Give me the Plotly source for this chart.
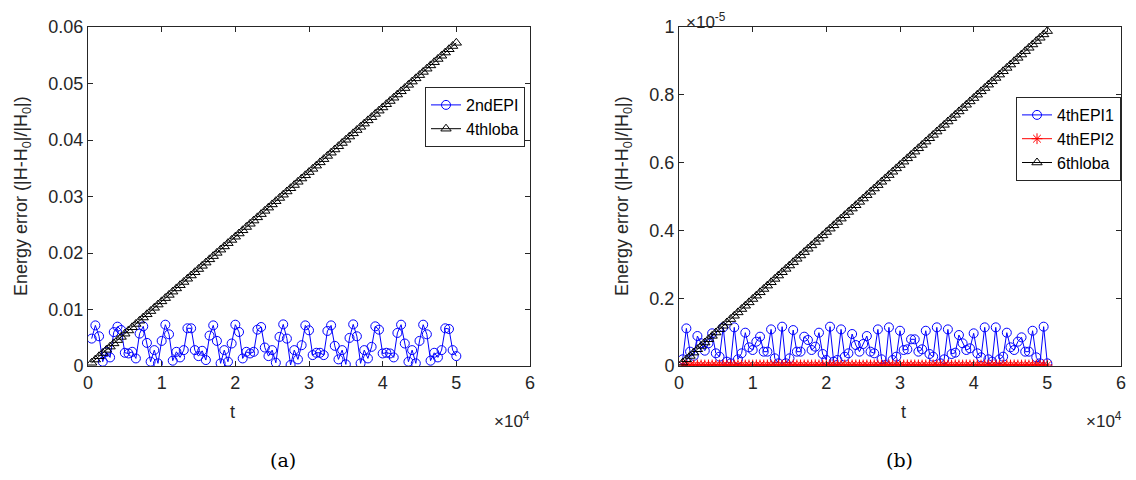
import plotly.graph_objects as go

# time samples (units of 1e4)
t_1e4 = [0.05, 0.10, 0.15, 0.20, 0.25, 0.30, 0.35, 0.40, 0.45, 0.50,
         0.55, 0.60, 0.65, 0.70, 0.75, 0.80, 0.85, 0.90, 0.95, 1.00,
         1.05, 1.10, 1.15, 1.20, 1.25, 1.30, 1.35, 1.40, 1.45, 1.50,
         1.55, 1.60, 1.65, 1.70, 1.75, 1.80, 1.85, 1.90, 1.95, 2.00,
         2.05, 2.10, 2.15, 2.20, 2.25, 2.30, 2.35, 2.40, 2.45, 2.50,
         2.55, 2.60, 2.65, 2.70, 2.75, 2.80, 2.85, 2.90, 2.95, 3.00,
         3.05, 3.10, 3.15, 3.20, 3.25, 3.30, 3.35, 3.40, 3.45, 3.50,
         3.55, 3.60, 3.65, 3.70, 3.75, 3.80, 3.85, 3.90, 3.95, 4.00,
         4.05, 4.10, 4.15, 4.20, 4.25, 4.30, 4.35, 4.40, 4.45, 4.50,
         4.55, 4.60, 4.65, 4.70, 4.75, 4.80, 4.85, 4.90, 4.95, 5.00]

# (a) values in units of 1e-3
epi2nd_e3 = [4.85, 7.19, 5.26, 0.76, 2.50, 1.52, 6.00, 6.96, 6.37, 2.34,
             2.22, 2.51, 1.34, 5.73, 7.02, 4.09, 0.76, 2.81, 0.47, 4.44,
             7.31, 5.61, 0.94, 2.51, 1.52, 2.81, 6.67, 6.67, 2.81, 1.75,
             2.69, 1.05, 5.38, 7.19, 4.44, 0.47, 2.81, 0.76, 3.98, 7.31,
             6.02, 1.34, 2.51, 2.22, 2.51, 6.43, 6.90, 3.27, 1.75, 2.81,
             0.58, 5.15, 7.37, 4.85, 0.18, 2.81, 1.17, 3.68, 7.19, 6.32,
             1.93, 2.34, 2.34, 1.93, 6.20, 7.19, 3.57, 1.17, 2.81, 0.29,
             4.97, 7.37, 5.26, 0.47, 2.81, 1.34, 3.39, 7.02, 6.43, 2.22,
             2.34, 2.22, 1.52, 5.85, 7.31, 3.98, 0.76, 2.81, 0.47, 4.44,
             7.31, 5.61, 0.94, 2.34, 1.52, 2.81, 6.67, 6.55, 2.81, 1.75]

loba4th_e3 = [0.57, 1.14, 1.72, 2.29, 2.86, 3.43, 4.00, 4.58, 5.15, 5.72,
              6.29, 6.86, 7.44, 8.01, 8.58, 9.15, 9.72, 10.30, 10.87, 11.44,
              12.01, 12.58, 13.16, 13.73, 14.30, 14.87, 15.44, 16.02, 16.59, 17.16,
              17.73, 18.30, 18.88, 19.45, 20.02, 20.59, 21.16, 21.74, 22.31, 22.88,
              23.45, 24.02, 24.60, 25.17, 25.74, 26.31, 26.88, 27.46, 28.03, 28.60,
              29.17, 29.74, 30.32, 30.89, 31.46, 32.03, 32.60, 33.18, 33.75, 34.32,
              34.89, 35.46, 36.04, 36.61, 37.18, 37.75, 38.32, 38.90, 39.47, 40.04,
              40.61, 41.18, 41.76, 42.33, 42.90, 43.47, 44.04, 44.62, 45.19, 45.76,
              46.33, 46.90, 47.48, 48.05, 48.62, 49.19, 49.76, 50.34, 50.91, 51.48,
              52.05, 52.62, 53.20, 53.77, 54.34, 54.91, 55.48, 56.06, 56.63, 57.20]

# (b) values in units of 1e-7
epi4th1_e7 = [1.97, 11.1, 4.23, 3.00, 8.85, 6.69, 4.52, 6.69, 9.64, 3.74,
              2.75, 11.4, 1.28, 0.79, 11.4, 1.97, 3.74, 9.83, 5.51, 4.72,
              7.18, 8.65, 4.23, 4.23, 10.8, 2.26, 0.79, 11.6, 0.79, 2.26,
              10.6, 4.23, 4.23, 8.65, 7.67, 4.72, 5.70, 9.83, 3.54, 1.77,
              11.6, 1.28, 1.77, 10.8, 2.75, 3.74, 9.44, 6.19, 4.23, 6.49,
              8.85, 4.23, 3.74, 10.8, 1.97, 0.29, 11.4, 1.77, 2.75, 10.4,
              4.72, 4.92, 7.87, 7.87, 4.23, 4.92, 10.4, 3.54, 2.75, 11.4,
              0.79, 1.97, 10.8, 3.54, 3.93, 9.14, 6.69, 4.72, 5.21, 9.64,
              3.74, 2.56, 11.4, 1.97, 1.28, 11.4, 1.97, 2.75, 9.83, 5.51,
              4.72, 7.18, 8.46, 4.23, 4.23, 10.4, 2.56, 0.79, 11.6, 0.79]

epi4th2_e7 = [0.30, 0.28, 0.31, 0.29, 0.32, 0.30, 0.27, 0.31, 0.30, 0.29,
              0.31, 0.30, 0.28, 0.32, 0.29, 0.30, 0.31, 0.27, 0.30, 0.29,
              0.32, 0.30, 0.28, 0.31, 0.30, 0.29, 0.31, 0.30, 0.28, 0.32,
              0.29, 0.30, 0.31, 0.27, 0.30, 0.29, 0.32, 0.30, 0.28, 0.31,
              0.30, 0.29, 0.31, 0.30, 0.28, 0.32, 0.29, 0.30, 0.31, 0.27,
              0.30, 0.29, 0.32, 0.30, 0.28, 0.31, 0.30, 0.29, 0.31, 0.30,
              0.28, 0.32, 0.29, 0.30, 0.31, 0.27, 0.30, 0.29, 0.32, 0.30,
              0.28, 0.31, 0.30, 0.29, 0.31, 0.30, 0.28, 0.32, 0.29, 0.30,
              0.31, 0.27, 0.30, 0.29, 0.32, 0.30, 0.28, 0.31, 0.30, 0.29,
              0.31, 0.30, 0.28, 0.32, 0.29, 0.30, 0.31, 0.27, 0.30, 0.29]

loba6th_e7 = [0.99, 1.98, 2.96, 3.95, 4.94, 5.93, 6.92, 7.90, 8.89, 9.88,
              10.87, 11.86, 12.84, 13.83, 14.82, 15.81, 16.80, 17.78, 18.77, 19.76,
              20.75, 21.74, 22.72, 23.71, 24.70, 25.69, 26.68, 27.66, 28.65, 29.64,
              30.63, 31.62, 32.60, 33.59, 34.58, 35.57, 36.56, 37.54, 38.53, 39.52,
              40.51, 41.50, 42.48, 43.47, 44.46, 45.45, 46.44, 47.42, 48.41, 49.40,
              50.39, 51.38, 52.36, 53.35, 54.34, 55.33, 56.32, 57.30, 58.29, 59.28,
              60.27, 61.26, 62.24, 63.23, 64.22, 65.21, 66.20, 67.18, 68.17, 69.16,
              70.15, 71.14, 72.12, 73.11, 74.10, 75.09, 76.08, 77.06, 78.05, 79.04,
              80.03, 81.02, 82.00, 82.99, 83.98, 84.97, 85.96, 86.94, 87.93, 88.92,
              89.91, 90.90, 91.88, 92.87, 93.86, 94.85, 95.84, 96.82, 97.81, 98.80]

x_ticks = [0, 1, 2, 3, 4, 5, 6]
ya_ticks = [0, 0.01, 0.02, 0.03, 0.04, 0.05, 0.06]
yb_ticks = [0, 0.2, 0.4, 0.6, 0.8, 1]

t = [v * 1e4 for v in t_1e4]
a_epi = [v * 1e-3 for v in epi2nd_e3]
a_loba = [v * 1e-3 for v in loba4th_e3]
# (b) plotted in units of 1e-5
b_epi1 = [v * 1e-2 for v in epi4th1_e7]
b_epi2 = [v * 1e-2 for v in epi4th2_e7]
b_loba = [v * 1e-2 for v in loba6th_e7]

AX = "#262626"
FONT = "Liberation Sans, Arial, Helvetica, sans-serif"

# page body has an 8px margin: figure occupies (8..1128, 8..472)
OFF = 8
W, H = 1136 - 2 * OFF, 480 - 2 * OFF


def px(x):
    return (x - OFF) / W


def py(y):
    return 1 - (y - OFF) / H


fig = go.Figure()


def add(x, y, name, color, symbol, xa, ya, lg, msize=9):
    fig.add_trace(go.Scatter(
        x=x, y=y, name=name, mode="lines+markers", xaxis=xa, yaxis=ya,
        legend=lg,
        line=dict(color=color, width=1),
        marker=dict(symbol=symbol, size=msize, color=color,
                    line=dict(color=color, width=1)),
    ))


add(t, a_epi, "2ndEPI", "#0000FF", "circle-open", "x", "y", "legend")
add(t, a_loba, "4thloba", "#000000", "triangle-up-open", "x", "y", "legend")
add(t, b_epi1, "4thEPI1", "#0000FF", "circle-open", "x2", "y2", "legend2")
add(t, b_epi2, "4thEPI2", "#FF0000", "asterisk-open", "x2", "y2", "legend2", 9)
add(t, b_loba, "6thloba", "#000000", "triangle-up-open", "x2", "y2", "legend2")

ydom = [py(366), py(27)]

axis_common = dict(
    showgrid=False, zeroline=False, showline=True, linecolor=AX, linewidth=1,
    mirror="ticks", ticks="inside", ticklen=5, tickcolor=AX, tickwidth=1,
    automargin=False,
    tickfont=dict(family=FONT, size=18, color=AX),
)

fig.update_layout(
    template="none",
    width=W, height=H,
    margin=dict(l=0, r=0, t=0, b=0, pad=0, autoexpand=False),
    paper_bgcolor="white", plot_bgcolor="white",
    font=dict(family=FONT, color=AX),
    xaxis=dict(domain=[px(88), px(530)], range=[0, 6e4],
               tickvals=[v * 1e4 for v in x_ticks],
               ticktext=[str(v) for v in x_ticks], anchor="y", **axis_common),
    yaxis=dict(domain=ydom, range=[0, 0.06], tickvals=ya_ticks,
               ticktext=["0", "0.01", "0.02", "0.03", "0.04", "0.05", "0.06"],
               anchor="x", **axis_common),
    xaxis2=dict(domain=[px(679), px(1121)], range=[0, 6e4],
                tickvals=[v * 1e4 for v in x_ticks],
                ticktext=[str(v) for v in x_ticks], anchor="y2", **axis_common),
    yaxis2=dict(domain=ydom, range=[0, 1], tickvals=yb_ticks,
                ticktext=["0", "0.2", "0.4", "0.6", "0.8", "1"],
                anchor="x2", **axis_common),
    legend=dict(x=px(425), y=py(87), xanchor="left", yanchor="top",
                bgcolor="white", bordercolor=AX, borderwidth=1,
                font=dict(family=FONT, size=16, color="#000000"),
                itemwidth=30, tracegroupgap=0),
    legend2=dict(x=px(1016), y=py(97), xanchor="left", yanchor="top",
                 bgcolor="white", bordercolor=AX, borderwidth=1,
                 font=dict(family=FONT, size=16, color="#000000"),
                 itemwidth=30, tracegroupgap=0),
    showlegend=True,
)

ylabel = "Energy error (|H-H<sub>0</sub>|/|H<sub>0</sub>|)"
SERIF = "DejaVu Serif, Liberation Serif, serif"
ann = [
    dict(x=px(22), y=py(196), text=ylabel, textangle=-90, font=dict(size=18)),
    dict(x=px(623), y=py(196), text=ylabel, textangle=-90, font=dict(size=18)),
    dict(x=px(232), y=py(412), text="t", font=dict(size=18)),
    dict(x=px(903), y=py(412), text="t", font=dict(size=18)),
    dict(x=px(512), y=py(420), text="×10<sup>4</sup>", font=dict(size=17)),
    dict(x=px(1104), y=py(420), text="×10<sup>4</sup>", font=dict(size=17)),
    dict(x=px(706), y=1, yanchor="top", text="×10<sup>-5</sup>", font=dict(size=17)),
    dict(x=px(283), y=py(460), text="(a)", font=dict(size=19, family=SERIF, color="#000000")),
    dict(x=px(900), y=py(460), text="(b)", font=dict(size=19, family=SERIF, color="#000000")),
]
for a in ann:
    a.setdefault("yanchor", "middle")
    a.update(xref="paper", yref="paper", showarrow=False, xanchor="center")
    a["font"].setdefault("family", FONT)
    a["font"].setdefault("color", AX)
    fig.add_annotation(**a)

fig.write_html("out.html")
